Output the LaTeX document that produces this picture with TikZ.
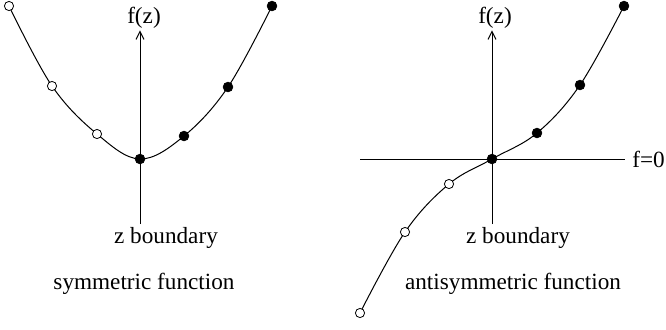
\documentclass[tikz,border=0pt]{standalone}
\usepackage{fontspec}
\setmainfont{Liberation Serif}
\usepackage{tikz}
\usetikzlibrary{arrows.meta,calc,positioning}
\tikzset{axis/.style={line width=.5pt,-{Straight Barb[length=4pt,width=4pt]}},line/.style={line width=.5pt},curve/.style={line width=.5pt},full/.style={circle,fill=black,draw=black,line width=.4pt,minimum size=4.8pt,inner sep=0pt},hollow/.style={circle,fill=white,draw=black,line width=.4pt,minimum size=4.6pt,inner sep=0pt},lbl/.style={font=\fontsize{11.6}{14}\selectfont,inner sep=1pt}}

\begin{document}
\begin{tikzpicture}[x=.5pt,y=-.5pt]
        \useasboundingbox(0,0)rectangle(666,329);
        % symmetric function
        \foreach \n/\x/\y in {a/9/6,b/52/86,c/97/134,d/140/159,e/184/136,f/228/87,g/272/6}\coordinate(s\n)at(\x,\y);
        \draw[curve]plot[smooth,tension=.6]coordinates{(sa)(sb)(sc)(sd)(se)(sf)(sg)};
        \node[lbl,anchor=base](fzL)at(144,23){f(z)};
        \coordinate(botL)at(140,224);
        \draw[axis](botL)--(botL|-fzL.south);
        \foreach \n in {a,b,c}\node[hollow](ps\n)at(s\n){};
        \foreach \n in {d,e,f,g}\node[full](ps\n)at(s\n){};
        \node[lbl,anchor=base](zbL)at(166,243){z boundary};
        \node[lbl,anchor=base](symL)at(144,289){symmetric function};
        % antisymmetric function
        \foreach \n/\x/\y in {a/360/313,b/405/232,c/449/184,d/492/159,e/537/133,f/580/85,g/624/6}\coordinate(t\n)at(\x,\y);
        \draw[curve]plot[smooth,tension=.6]coordinates{(ta)(tb)(tc)(td)(te)(tf)(tg)};
        \node[lbl,anchor=base](fzR)at(495,23){f(z)};
        \coordinate(botR)at(492,224);
        \draw[axis](botR)--(botR|-fzR.south);
        \node[lbl,anchor=base west,inner xsep=3.5pt](fzero)at(625,167){f=0};
        \coordinate(hL)at(360,159);
        \draw[line](hL)--(hL-|fzero.west);
        \foreach \n in {a,b,c}\node[hollow](pt\n)at(t\n){};
        \foreach \n in {d,e,f,g}\node[full](pt\n)at(t\n){};
        \node[lbl,anchor=base](zbR)at(518,243){z boundary};
        \node[lbl,anchor=base](asymR)at(513,289){antisymmetric function};
      \end{tikzpicture}
\end{document}
